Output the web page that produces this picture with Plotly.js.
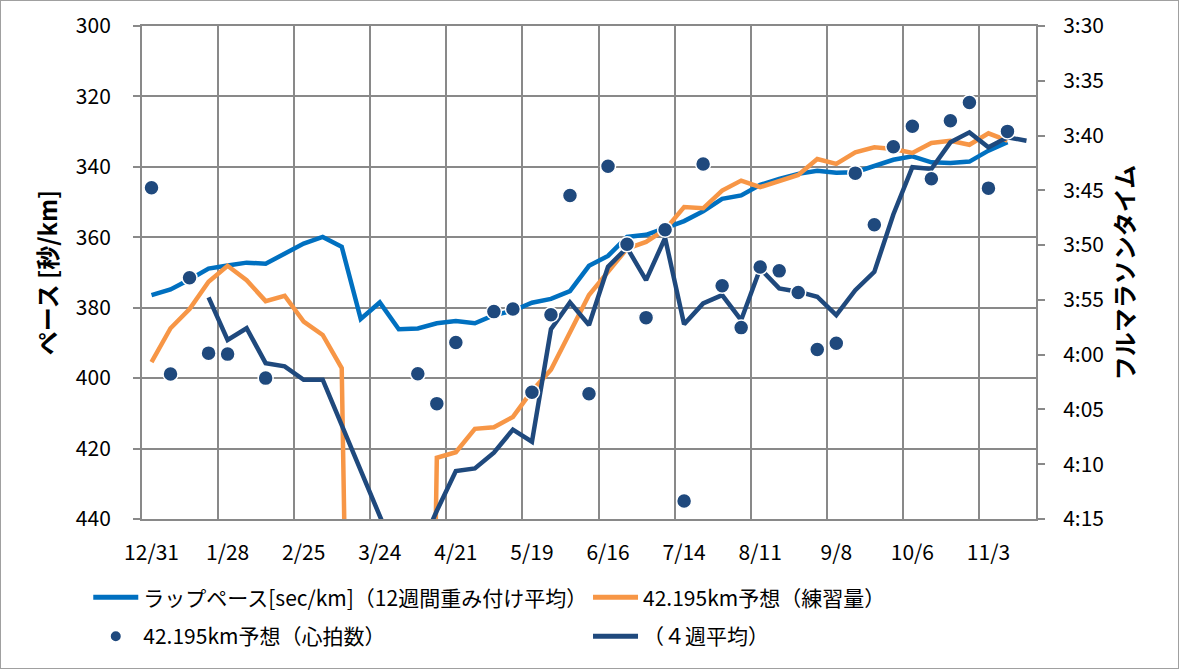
<!DOCTYPE html>
<html>
<head>
<meta charset="utf-8">
<script src="https://cdn.plot.ly/plotly-3.0.1.min.js"></script>
<style>
  html, body { margin: 0; padding: 0; background: #fff; }
  #wrap { position: relative; width: 1179px; height: 669px; }
  #chart { width: 1179px; height: 669px; }
  #frame { position: absolute; left: 0; top: 0; width: 1179px; height: 669px; box-sizing: border-box; border: 1px solid #a0a0a0; pointer-events: none; }
</style>
</head>
<body>
<div id="wrap"><div id="chart"></div><div id="frame"></div></div>
<script>
// Weekly categories (2023-12-31 .. 2024-11-17)
const weeks = ["12/31","1/7","1/14","1/21","1/28","2/4","2/11","2/18","2/25","3/3","3/10","3/17","3/24","3/31","4/7","4/14","4/21","4/28","5/5","5/12","5/19","5/26","6/2","6/9","6/16","6/23","6/30","7/7","7/14","7/21","7/28","8/4","8/11","8/18","8/25","9/1","9/8","9/15","9/22","9/29","10/6","10/13","10/20","10/27","11/3","11/10","11/17"];

// Lap pace [sec/km], 12-week weighted average (left axis)
const lapPace = [376.4,374.8,372.0,368.9,368.0,367.2,367.5,364.6,361.8,359.9,362.7,383.2,378.5,386.1,385.9,384.4,383.8,384.4,382.1,380.9,378.6,377.5,375.3,368.1,365.3,359.9,359.3,357.4,355.4,352.6,349.1,348.1,345.1,343.4,342.0,341.1,341.7,341.5,339.6,338.0,337.0,338.7,338.9,338.5,335.4,333.0,null];

// Full-marathon predictions, minutes (right axis)
const predVolume = [240.68,237.59,235.84,233.35,231.89,233.2,235.11,234.62,236.98,238.2,241.23,450,450,400,355,249.41,248.91,246.77,246.62,245.68,243.32,241.38,237.89,234.56,232.44,230.32,229.71,228.59,226.53,226.64,225.02,224.11,224.71,224.2,223.59,222.14,222.59,221.53,221.07,221.23,221.59,220.68,220.47,220.84,219.8,220.47,null];

const predHeart = [224.77,241.77,232.98,239.86,239.95,null,242.14,null,null,null,null,null,null,null,241.75,244.47,238.89,null,236.07,235.84,243.43,236.36,225.47,243.56,222.8,229.93,236.62,228.59,253.36,222.59,233.71,237.53,232.0,232.35,234.32,239.53,238.95,223.43,228.14,221.02,219.16,223.95,218.65,216.98,224.8,219.62,null];

const heart4w = [null,null,null,234.77,238.65,237.59,240.77,241.07,242.29,242.29,246.44,250.59,254.77,258.86,258.14,254.25,250.62,250.38,248.95,246.84,247.95,237.68,235.23,237.29,231.98,230.23,233.2,229.35,237.23,235.32,234.56,236.84,232.14,233.95,234.25,234.71,236.38,234.11,232.44,227.2,222.89,223.05,220.62,219.71,221.07,220.16,220.47];

const leftTicks = [300,320,340,360,380,400,420,440];
const rightTickVals = [210,215,220,225,230,235,240,245,250,255];
const rightTickText = ["3:30","3:35","3:40","3:45","3:50","3:55","4:00","4:05","4:10","4:15"];

const names = ["ラップペース[sec/km]（12週間重み付け平均）","42.195km予想（練習量）","42.195km予想（心拍数）","（４週平均）"];

const FONT = '"Noto Sans CJK JP", "Noto Sans", sans-serif';
const GRID = '#898989';

const traces = [
  {x: weeks, y: lapPace, yaxis: 'y', type: 'scatter', mode: 'lines', name: names[0],
   line: {color: '#0070C0', width: 4.5}, legend: 'legend'},
  {x: weeks, y: predVolume, yaxis: 'y2', type: 'scatter', mode: 'lines', name: names[1],
   line: {color: '#F79646', width: 4.5}, legend: 'legend2'},
  {x: weeks, y: heart4w, yaxis: 'y2', type: 'scatter', mode: 'lines', name: names[3],
   line: {color: '#1F497D', width: 4.5}, legend: 'legend4'},
  {x: weeks, y: predHeart, yaxis: 'y2', type: 'scatter', mode: 'markers', name: names[2],
   marker: {color: '#1F497D', size: 15, line: {color: '#ffffff', width: 1.5}}, legend: 'legend3'}
];

function leg(x, y) {
  return {
    orientation: 'h', xanchor: 'left', yanchor: 'middle', x: x, y: y,
    itemwidth: 45, itemsizing: 'constant',
    font: {family: FONT, size: 21, color: '#000'}, bgcolor: 'rgba(0,0,0,0)', borderwidth: 0
  };
}

const layout = {
  width: 1179, height: 669,
  margin: {l: 142, r: 143, t: 26, b: 148},
  paper_bgcolor: '#fff', plot_bgcolor: '#fff',
  showlegend: true,
  xaxis: {
    type: 'category', tickmode: 'linear', tick0: 0, dtick: 4, tickson: 'boundaries', tickangle: 0,
    range: [-0.5, 46.5], showgrid: true, gridcolor: GRID, gridwidth: 2, automargin: false,
    showline: true, mirror: true, linecolor: GRID, linewidth: 2, ticks: '',
    tickfont: {family: FONT, size: 21, color: '#000'}, ticklabelstandoff: 14, zeroline: false
  },
  yaxis: {
    range: [440, 300], tickvals: leftTicks, showgrid: true, gridcolor: GRID, gridwidth: 2, automargin: false,
    showline: true, linecolor: GRID, linewidth: 2, ticks: 'outside', ticklen: 7, tickwidth: 2, tickcolor: GRID,
    tickfont: {family: FONT, size: 21, color: '#000'}, ticklabelstandoff: 18, zeroline: false,
    title: {text: '<b>ペース [秒/km]</b>', font: {family: FONT, size: 24, color: '#000'}, standoff: 11}
  },
  yaxis2: {
    overlaying: 'y', side: 'right', range: [255, 210], tickvals: rightTickVals, ticktext: rightTickText, automargin: false,
    showgrid: false, showline: true, linecolor: GRID, linewidth: 2, ticks: 'outside', ticklen: 7, tickwidth: 2, tickcolor: GRID,
    tickfont: {family: FONT, size: 21, color: '#000'}, ticklabelstandoff: 14, zeroline: false,
    title: {text: '<b>フルマラソンタイム</b>', font: {family: FONT, size: 24, color: '#000'}, standoff: 14}
  },
  legend: leg(-0.0601, -0.1596),
  legend2: leg(0.4989, -0.1596),
  legend3: leg(-0.0601, -0.2384),
  legend4: leg(0.4989, -0.2384)
};

Plotly.newPlot('chart', traces, layout, {displayModeBar: false, staticPlot: true});
</script>
</body>
</html>
